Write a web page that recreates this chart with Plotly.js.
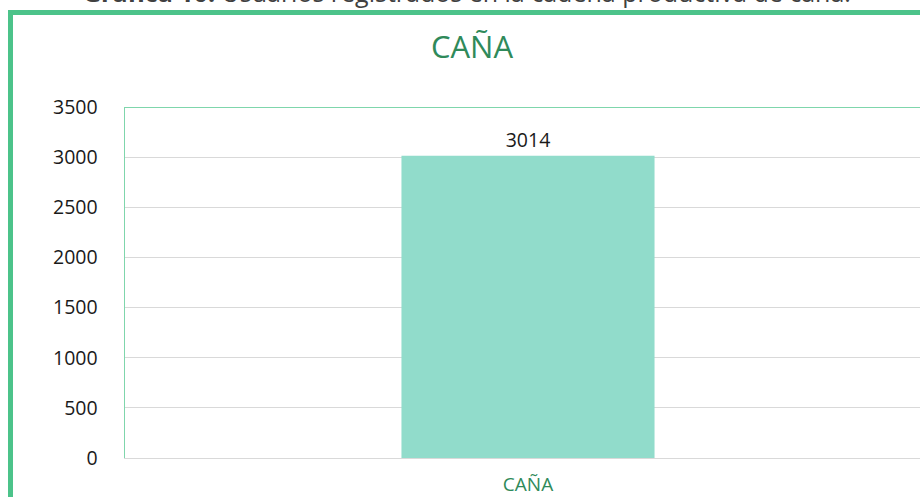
<!DOCTYPE html>
<html>
<head>
<meta charset="utf-8">
<script src="https://cdn.plot.ly/plotly-3.0.1.min.js"></script>
<style>
html,body{margin:0;padding:0;overflow:hidden;background:#fff;width:920px;height:497px;}
#chart{width:935px;height:497px;}
</style>
</head>
<body>
<div id="chart"></div>
<script>
const categories = ["CAÑA"];
const values = [3014];
const yTicks = [0, 500, 1000, 1500, 2000, 2500, 3000, 3500];
const chartTitle = "CAÑA";
const caption = "<b>Gráfica 10.</b> Usuarios registrados en la cadena productiva de caña.";

const W = 935, H = 497;
const ml = 125, mr = 4, mt = 107, mb = 39;
const pw = W - ml - mr, ph = H - mt - mb;
const px = x => (x - ml) / pw;
const py = y => (H - mb - y) / ph;

const trace = {
  type: "bar",
  x: categories,
  y: values,
  marker: {color: "#91dccb"},
  text: values.map(String),
  textposition: "outside",
  textfont: {family: "Open Sans, sans-serif", size: 19.5, color: "#1a1a1a"},
  cliponaxis: false,
  hoverinfo: "none"
};

const layout = {
  width: W, height: H,
  margin: {l: ml, r: mr, t: mt, b: mb, pad: 0},
  paper_bgcolor: "#fff",
  plot_bgcolor: "#fff",
  showlegend: false,
  bargap: 0.686,
  font: {family: "Open Sans, sans-serif"},
  title: {text: chartTitle, font: {family: "Open Sans, sans-serif", size: 31, color: "#2f8a5a"},
          x: px(472), xref: "paper", xanchor: "center", y: 1 - 47 / H, yanchor: "middle"},
  xaxis: {
    showgrid: false, zeroline: false, showline: true, linecolor: "#d9d9d9", linewidth: 1,
    tickfont: {family: "Open Sans, sans-serif", size: 19, color: "#2f8a5a"},
    ticks: "outside", ticklen: 9, tickcolor: "rgba(0,0,0,0)", fixedrange: true
  },
  yaxis: {
    range: [0, 3500], tickvals: yTicks, ticktext: yTicks.map(String),
    showgrid: true, gridcolor: "#d9d9d9", gridwidth: 1,
    zeroline: false, showline: true, linecolor: "#7fd6ac", linewidth: 1.5,
    tickfont: {family: "Open Sans, sans-serif", size: 19.5, color: "#1a1a1a"},
    ticks: "outside", ticklen: 22, tickcolor: "rgba(0,0,0,0)", fixedrange: true
  },
  shapes: [
    {type: "line", xref: "paper", yref: "y", x0: 0, x1: 1, y0: 3500, y1: 3500,
     line: {color: "#7fd6ac", width: 2}},
    {type: "rect", xref: "paper", yref: "paper",
     x0: px(10.5), x1: px(W + 20), y0: py(H + 20), y1: py(12.5),
     line: {color: "#4cc38a", width: 5}, fillcolor: "rgba(0,0,0,0)", layer: "below"}
  ],
  annotations: [
    {text: caption, xref: "paper", yref: "paper", x: px(467), y: py(-8),
     xanchor: "center", yanchor: "middle", showarrow: false,
     font: {family: "Open Sans, sans-serif", size: 25, color: "#404040"}}
  ]
};

Plotly.newPlot("chart", [trace], layout, {displayModeBar: false, staticPlot: true});
</script>
</body>
</html>
